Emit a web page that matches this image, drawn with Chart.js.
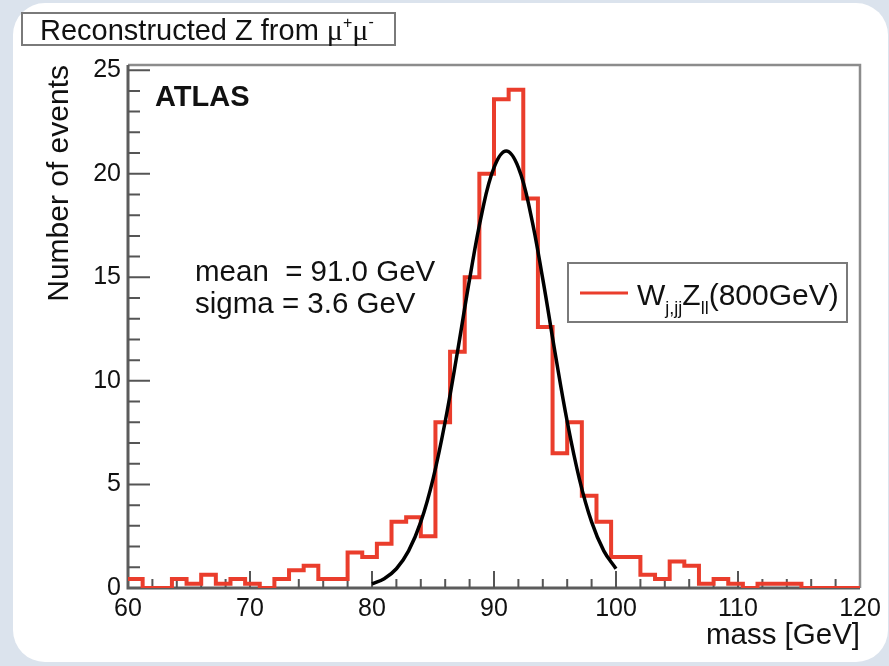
<!DOCTYPE html>
<html>
<head>
<meta charset="utf-8">
<script src="https://cdn.jsdelivr.net/npm/chart.js@4.4.1/dist/chart.umd.min.js"></script>
<style>
  body { margin: 0; background: #dbe3ed; width: 889px; height: 666px; overflow: hidden; position: relative; }
  #panel { position: absolute; left: 13px; top: 3px; width: 875px; height: 659px; background: #fff; border-radius: 32px; }
  #massChart { position: absolute; left: 0; top: 0; }
</style>
</head>
<body>
<div id="panel"></div>
<canvas id="massChart" width="889" height="666"></canvas>
<script>
// histogram bin edges (GeV), 50 bins of 1.2 GeV
var binEdges = [
  60.0, 61.2, 62.4, 63.6, 64.8, 66.0, 67.2, 68.4, 69.6, 70.8,
  72.0, 73.2, 74.4, 75.6, 76.8, 78.0, 79.2, 80.4, 81.6, 82.8,
  84.0, 85.2, 86.4, 87.6, 88.8, 90.0, 91.2, 92.4, 93.6, 94.8,
  96.0, 97.2, 98.4, 99.6, 100.8, 102.0, 103.2, 104.4, 105.6, 106.8,
  108.0, 109.2, 110.4, 111.6, 112.8, 114.0, 115.2, 116.4, 117.6, 118.8,
  120.0
];
// events per bin
var eventCounts = [
  0.43, 0, 0, 0.43, 0.21, 0.64, 0.21, 0.43, 0.21, 0,
  0.43, 0.86, 1.07, 0.43, 0.43, 1.71, 1.5, 2.14, 3.2, 3.42,
  2.5, 8.0, 11.4, 15.0, 20.0, 23.6, 24.05, 18.8, 12.6, 6.5,
  8.0, 4.45, 3.2, 1.5, 1.5, 0.64, 0.43, 1.28, 1.07, 0.21,
  0.43, 0.21, 0, 0.21, 0.21, 0.21, 0, 0, 0, 0
];
// gaussian fit curve
var fitMass = [80, 81, 82, 83, 84, 85, 86, 87, 88, 89, 90, 91, 92, 93, 94, 95, 96, 97, 98, 99, 100];
var fitValues = [0.2, 0.45, 0.93, 1.79, 3.19, 5.26, 8.04, 11.38, 14.91, 18.08, 20.3, 21.1,
  20.3, 18.08, 14.91, 11.38, 8.04, 5.26, 3.19, 1.79, 0.93];
var yTicks = [0, 5, 10, 15, 20, 25];
var xTicks = [60, 70, 80, 90, 100, 110, 120];

var histPoints = eventCounts.map(function (v, i) { return { x: binEdges[i], y: v }; });
histPoints.push({ x: binEdges[binEdges.length - 1], y: eventCounts[eventCounts.length - 1] });
var fitPoints = fitMass.map(function (m, i) { return { x: m, y: fitValues[i] }; });

var FONT = "'Liberation Sans', Arial, sans-serif";

// draw a run of text pieces (for super/subscripts)
function drawRich(ctx, parts, x, y) {
  parts.forEach(function (p) {
    ctx.font = (p.bold ? "bold " : "") + p.size + "px " + (p.family || FONT);
    ctx.fillText(p.t, x, y + (p.dy || 0));
    x += ctx.measureText(p.t).width;
  });
}

var rootStyle = {
  id: "rootStyle",
  beforeDatasetsDraw: function (chart) {
    var ctx = chart.ctx, a = chart.chartArea;
    var xs = chart.scales.x, ys = chart.scales.y;
    ctx.save();
    // frame top / right
    ctx.strokeStyle = "#8c8c8c";
    ctx.lineWidth = 2.5;
    ctx.beginPath();
    ctx.moveTo(a.left, a.top);
    ctx.lineTo(a.right, a.top);
    ctx.lineTo(a.right, a.bottom);
    ctx.stroke();
    // axes
    ctx.strokeStyle = "#5c5c5c";
    ctx.lineWidth = 3;
    ctx.beginPath();
    ctx.moveTo(a.left, a.top);
    ctx.lineTo(a.left, a.bottom);
    ctx.lineTo(a.right, a.bottom);
    ctx.stroke();
    // ticks inside frame
    ctx.lineWidth = 2;
    ctx.strokeStyle = "#555";
    ctx.beginPath();
    for (var v = 1; v <= 25; v++) {
      var py = ys.getPixelForValue(v);
      var len = v % 5 === 0 ? 22 : 12;
      ctx.moveTo(a.left, py);
      ctx.lineTo(a.left + len, py);
    }
    for (var m = 62; m < 120; m += 2) {
      var px = xs.getPixelForValue(m);
      var l = m % 10 === 0 ? 17 : 9;
      ctx.moveTo(px, a.bottom);
      ctx.lineTo(px, a.bottom - l);
    }
    ctx.stroke();
    ctx.restore();
  },
  afterDraw: function (chart) {
    var ctx = chart.ctx;
    ctx.save();
    ctx.textBaseline = "alphabetic";
    ctx.textAlign = "left";

    // title box
    ctx.fillStyle = "#fff";
    ctx.fillRect(22, 13, 373, 32);
    ctx.strokeStyle = "#7a7a7a";
    ctx.lineWidth = 2;
    ctx.strokeRect(22, 13, 373, 32);
    ctx.fillStyle = "#111";
    drawRich(ctx, [
      { t: "Reconstructed Z from ", size: 29 },
      { t: "\u03bc", size: 30, family: "'Liberation Serif', serif" },
      { t: "+", size: 16, dy: -12 },
      { t: "\u03bc", size: 30, family: "'Liberation Serif', serif" },
      { t: "-", size: 16, dy: -13 }
    ], 40, 40);

    // ATLAS label
    drawRich(ctx, [{ t: "ATLAS", size: 29, bold: true }], 155, 106);

    // fit results
    drawRich(ctx, [{ t: "mean  = 91.0 GeV", size: 29.5 }], 195, 281);
    drawRich(ctx, [{ t: "sigma = 3.6 GeV", size: 29.5 }], 195, 313);

    // legend
    ctx.fillStyle = "#fff";
    ctx.fillRect(568, 263, 279, 59);
    ctx.strokeStyle = "#7a7a7a";
    ctx.lineWidth = 2;
    ctx.strokeRect(568, 263, 279, 59);
    ctx.strokeStyle = chart.data.datasets[1].borderColor;
    ctx.lineWidth = 3;
    ctx.beginPath();
    ctx.moveTo(580, 293);
    ctx.lineTo(628, 293);
    ctx.stroke();
    ctx.fillStyle = "#111";
    drawRich(ctx, [
      { t: "W", size: 30 },
      { t: "j,jj", size: 18, dy: 9 },
      { t: "Z", size: 30 },
      { t: "ll", size: 18, dy: 9 },
      { t: "(800GeV)", size: 30 }
    ], 637, 305);
    ctx.restore();
  }
};

new Chart(document.getElementById("massChart").getContext("2d"), {
  type: "line",
  data: {
    datasets: [
      {
        label: "Gaussian fit",
        data: fitPoints,
        borderColor: "#000",
        borderWidth: 3.5,
        pointRadius: 0,
        tension: 0.4,
        fill: false,
        order: 0
      },
      {
        label: "W_{j,jj}Z_{ll}(800GeV)",
        data: histPoints,
        borderColor: "#ea3d2c",
        borderWidth: 4,
        pointRadius: 0,
        stepped: "before",
        fill: false,
        order: 1
      }
    ]
  },
  options: {
    responsive: false,
    devicePixelRatio: 1,
    animation: false,
    layout: { padding: { top: 65, right: 29, left: 0, bottom: 0 } },
    plugins: {
      legend: { display: false },
      tooltip: { enabled: false },
      title: { display: false }
    },
    scales: {
      x: {
        type: "linear",
        min: 60,
        max: 120,
        afterFit: function (s) { s.height = 78; },
        afterBuildTicks: function (s) { s.ticks = xTicks.map(function (v) { return { value: v }; }); },
        grid: { display: false, drawTicks: false },
        border: { display: false },
        ticks: {
          color: "#111",
          padding: 6,
          maxRotation: 0,
          autoSkip: false,
          font: { family: FONT, size: 25 }
        },
        title: {
          display: true,
          text: "mass [GeV]",
          align: "end",
          color: "#111",
          padding: { top: 0, bottom: 12 },
          font: { family: FONT, size: 29.5 }
        }
      },
      y: {
        min: 0,
        max: 25.25,
        afterFit: function (s) { s.width = 128; },
        afterBuildTicks: function (s) { s.ticks = yTicks.map(function (v) { return { value: v }; }); },
        grid: { display: false, drawTicks: false },
        border: { display: false },
        ticks: {
          color: "#111",
          padding: 7,
          font: { family: FONT, size: 25 }
        },
        title: {
          display: true,
          text: "Number of events",
          align: "end",
          color: "#111",
          padding: { top: 42, bottom: 0 },
          font: { family: FONT, size: 30 }
        }
      }
    }
  },
  plugins: [rootStyle]
});
</script>
</body>
</html>
